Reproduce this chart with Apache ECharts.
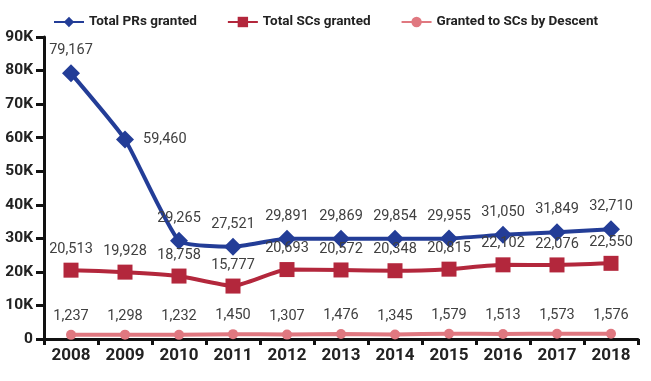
<!DOCTYPE html>
<html><head><meta charset="utf-8">
<script src="https://cdn.jsdelivr.net/npm/echarts@6/dist/echarts.min.js"></script>
<style>html,body{margin:0;padding:0;background:#fff}#c{width:651px;height:381px}</style>
</head><body><div id="c"></div>
<script>
var years = ['2008','2009','2010','2011','2012','2013','2014','2015','2016','2017','2018'];
var totalPRs = [79167,59460,29265,27521,29891,29869,29854,29955,31050,31849,32710];
var totalSCs = [20513,19928,18758,15777,20693,20572,20348,20815,22102,22076,22550];
var descentSCs = [1237,1298,1232,1450,1307,1476,1345,1579,1513,1573,1576];
var yTicks = {min:0, max:90000, interval:10000};

var chart = echarts.init(document.getElementById('c'));
function lbl(){
  return {show:true, position:'top', distance:6, color:'#404040', fontFamily:'Roboto', fontSize:14.5,
    formatter:function(p){return Number(p.value).toLocaleString('en-US');}};
}
var prData = totalPRs.map(function(v,i){
  return i===1 ? {value:v, label:{position:'right', distance:9}} : v;
});
chart.setOption({
  animation:false,
  legend:{top:10, left:'center', itemWidth:30, itemHeight:13, itemGap:30,
    textStyle:{fontFamily:'Roboto', fontWeight:'bold', fontSize:13.5, color:'#222'},
    data:['Total PRs granted','Total SCs granted','Granted to SCs by Descent']},
  grid:{left:44, right:13, top:37, bottom:42},
  xAxis:{type:'category', data:years, boundaryGap:true,
    axisLine:{lineStyle:{color:'#111', width:3}},
    axisTick:{show:true, length:6, lineStyle:{color:'#111', width:3}},
    axisLabel:{color:'#222', fontFamily:'Roboto', fontWeight:'bold', fontSize:17, margin:8}},
  yAxis:{type:'value', min:yTicks.min, max:yTicks.max, interval:yTicks.interval,
    splitLine:{show:false},
    axisLine:{show:true, lineStyle:{color:'#111', width:3}},
    axisTick:{show:true, length:8, lineStyle:{color:'#111', width:3}},
    axisLabel:{color:'#222', fontFamily:'Roboto', fontWeight:'bold', fontSize:15.5, margin:11,
      formatter:function(v){return v===0?'0':(v/1000)+'K';}}},
  series:[
    {name:'Total PRs granted', type:'line', data:prData, smooth:0.15,
      symbol:'diamond', symbolSize:18, color:'#233d97',
      lineStyle:{width:4, color:'#233d97'}, itemStyle:{color:'#233d97'},
      label:lbl()},
    {name:'Total SCs granted', type:'line', data:totalSCs, smooth:0.15,
      symbol:'rect', symbolSize:15, color:'#b3273c',
      lineStyle:{width:4, color:'#b3273c'}, itemStyle:{color:'#b3273c'},
      label:lbl()},
    {name:'Granted to SCs by Descent', type:'line', data:descentSCs, smooth:0.15,
      symbol:'circle', symbolSize:10, color:'#e07880',
      lineStyle:{width:4, color:'#e07880'}, itemStyle:{color:'#e07880'},
      label:lbl()}
  ]
});
</script></body></html>
